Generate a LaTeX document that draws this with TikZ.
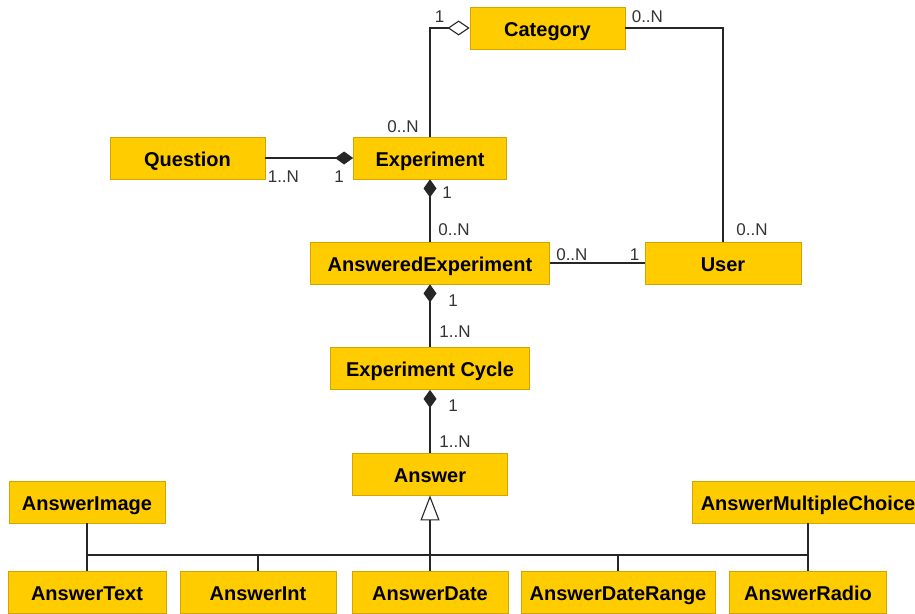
\documentclass[tikz,border=0pt]{standalone}
\usepackage{fontspec}
\setmainfont{Liberation Sans}
\usetikzlibrary{arrows.meta,positioning,calc}
\definecolor{ClassFill}{HTML}{FFCC00}
\definecolor{ClassEdge}{HTML}{D2A500}
\definecolor{LabelGray}{HTML}{333333}

\begin{document}
\begin{tikzpicture}[x=1pt, y=-1pt,
    cls/.style={draw=ClassEdge, fill=ClassFill, line width=0.8pt,
      minimum height=42pt, inner sep=0pt, text height=18pt, text depth=2pt,
      font=\bfseries\fontsize{20}{24}\selectfont},
    lab/.style={font=\fontsize{17}{20}\selectfont, text=LabelGray, inner sep=0pt},
    link/.style={line width=1.1pt, color=black!85},
    comp/.style={link, {Diamond[length=18pt,width=13pt]}-},
    agg/.style={link, {Diamond[open,fill=white,length=22pt,width=15pt]}-},
    gen/.style={link, -{Triangle[open,fill=white,length=25pt,width=19pt]}}
  ]
    \useasboundingbox (0,0) rectangle (915,613);
    % classes
    \node[cls, minimum width=155pt] (category) at (547.5,28) {Category};
    \node[cls, minimum width=155pt] (question) at (187.5,158) {Question};
    \node[cls, minimum width=153pt] (experiment) at (430,158) {Experiment};
    \node[cls, minimum width=239pt] (answered) at (430,263) {AnsweredExperiment};
    \node[cls, minimum width=156pt] (user) at (723,263) {User};
    \node[cls, minimum width=199pt] (cycle) at (430,368.5) {Experiment Cycle};
    \node[cls, minimum width=155pt] (answer) at (430,474) {Answer};
    \node[cls, minimum width=156pt] (aimage) at (87,502) {AnswerImage};
    \node[cls, minimum width=232pt] (amulti) at (808,502) {AnswerMultipleChoice};
    \node[cls, minimum width=158pt] (atext) at (87,592.5) {AnswerText};
    \node[cls, minimum width=156pt] (aint) at (258,592.5) {AnswerInt};
    \node[cls, minimum width=156pt] (adate) at (430,592.5) {AnswerDate};
    \node[cls, minimum width=194pt] (arange) at (618,592.5) {AnswerDateRange};
    \node[cls, minimum width=157pt] (aradio) at (808,592.5) {AnswerRadio};
    \coordinate (bus) at (0,555);
    % associations
    \draw[agg] (category.west) -| node[lab, at start, xshift=-30pt, yshift=11pt] (m1) {1}
      node[lab, at end, xshift=-27pt, yshift=10pt] (m2) {0..N} (experiment.north);
    \draw[link] (category.east) -| node[lab, at start, xshift=22pt, yshift=11pt] (m3) {0..N}
      node[lab, at end, xshift=29pt, yshift=12pt] (m4) {0..N} (user.north);
    \draw[comp] (experiment.west) -- node[lab, at start, xshift=-14pt, yshift=-19pt] (m5) {1}
      node[lab, at end, xshift=18pt, yshift=-19pt] (m6) {1..N} (question.east);
    \draw[comp] (experiment.south) -- node[lab, at start, xshift=17pt, yshift=-13pt] (m7) {1}
      node[lab, at end, xshift=24pt, yshift=12pt] (m8) {0..N} (answered.north);
    \draw[link] (answered.east) -- node[lab, at start, xshift=22pt, yshift=8pt] (m9) {0..N}
      node[lab, at end, xshift=-10pt, yshift=8pt] (m10) {1} (user.west);
    \draw[comp] (answered.south) -- node[lab, at start, xshift=23pt, yshift=-16pt] (m11) {1}
      node[lab, at end, xshift=25pt, yshift=15pt] (m12) {1..N} (cycle.north);
    \draw[comp] (cycle.south) -- node[lab, at start, xshift=23pt, yshift=-16pt] (m13) {1}
      node[lab, at end, xshift=25pt, yshift=11pt] (m14) {1..N} (answer.north);
    % generalization
    \draw[gen] (adate.north) -- (answer.south);
    \draw[link] (atext.north |- bus) -- (aradio.north |- bus);
    \draw[link] (aimage.south) -- (atext.north);
    \draw[link] (amulti.south) -- (aradio.north);
    \draw[link] (aint.north) -- (aint.north |- bus);
    \draw[link] (arange.north) -- (arange.north |- bus);
\end{tikzpicture}
\end{document}
